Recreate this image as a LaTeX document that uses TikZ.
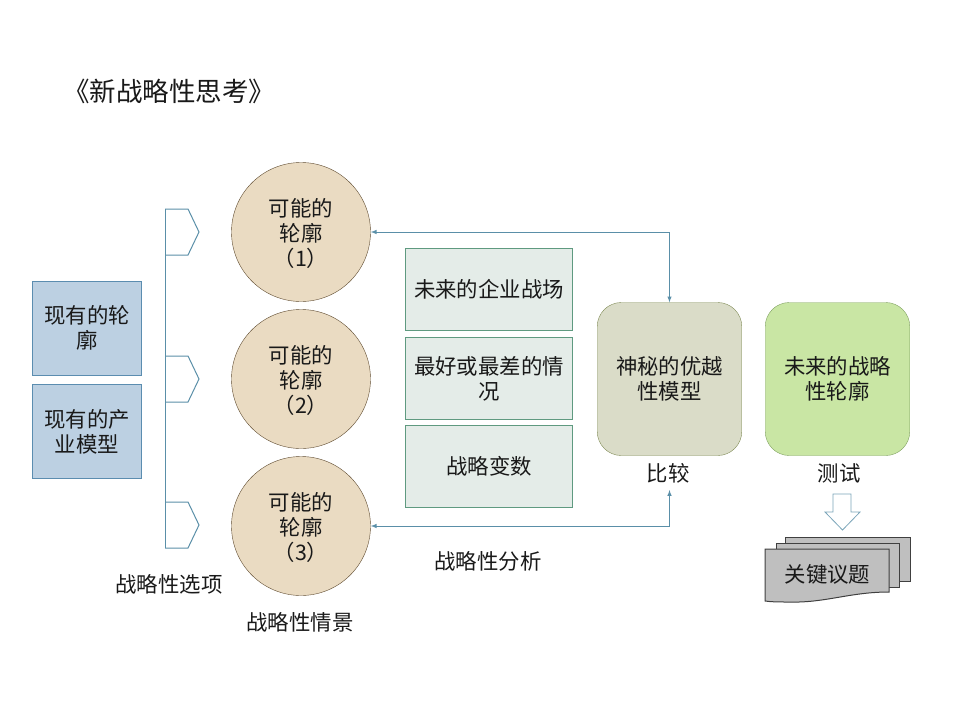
\documentclass[tikz,border=0pt]{standalone}
\usepackage{fontspec}
\setmainfont{Noto Sans CJK SC}
\definecolor{linkblue}{HTML}{5A8FA8}
\definecolor{nowfill}{HTML}{BCD0E2}
\definecolor{nowline}{HTML}{5B8DB0}
\definecolor{scenefill}{HTML}{EADBC2}
\definecolor{sceneline}{HTML}{5F4B30}
\definecolor{midfill}{HTML}{E4ECE8}
\definecolor{midline}{HTML}{5F9A80}
\definecolor{modelfill}{HTML}{DADCC8}
\definecolor{modelline}{HTML}{7F8A55}
\definecolor{futurefill}{HTML}{C9E6A4}
\definecolor{futureline}{HTML}{7FA060}
\tikzset{
  txt/.style={font=\fontsize{21.4}{25}\selectfont,align=center,text=black!90,inner sep=0pt},
  nowbox/.style={txt,draw=nowline,fill=nowfill,minimum width=109pt,minimum height=94pt},
  scene/.style={txt,circle,draw=sceneline,fill=scenefill,minimum size=139pt},
  midbox/.style={txt,draw=midline,fill=midfill,minimum width=167pt,minimum height=82pt},
  bigbox/.style={txt,draw,rounded corners=24pt,minimum width=144.5pt,minimum height=153pt},
  link/.style={draw=linkblue,line width=1pt},
  doc/.style={draw=black!75,line width=1pt,fill=black!25}
}
\begin{document}
\begin{tikzpicture}[x=1pt,y=-1pt]
  \useasboundingbox (0,0) rectangle (960,720);
  % title
  \node[txt,font=\fontsize{26.5}{30}\selectfont] (title) at (169,91) {《新战略性思考》};
  % left boxes
  \node[nowbox] (now1) at (87,328) {现有的轮\\廓};
  \node[nowbox] (now2) at (87,431.5) {现有的产\\业模型};
  % options bracket
  \coordinate (top) at (165,209);
  \coordinate (bot) at (165,548);
  \draw[link] (top) -- (bot);
  \foreach \y in {232,379,525} {
    \draw[link] (165,\y-23) -- (188,\y-23) -- (199,\y) -- (188,\y+23) -- (165,\y+23);
  }
  % scenarios
  \foreach \n/\y in {1/232,2/379,3/526} {
    \node[scene] (scene\n) at (301,\y) {\rule{0pt}{21pt}可能的\\轮廓\\（\n）};
  }
  % middle boxes
  \node[midbox] (mid1) at (489,289.5) {未来的企业战场};
  \node[midbox] (mid2) at (489,378.5) {最好或最差的情\\况};
  \node[midbox] (mid3) at (489,466.5) {战略变数};
  % right boxes
  \node[bigbox,draw=modelline,fill=modelfill] (model) at (669.5,379) {神秘的优越\\性模型};
  \node[bigbox,draw=futureline,fill=futurefill] (future) at (837.5,379) {未来的战略\\性轮廓};
  % connectors
  \coordinate (cmp) at (669.5,490);
  \draw[link,<->,>=latex] (scene1.east) -| (model.north);
  \draw[link,<->,>=latex] (scene3.east) -| (cmp);
  % labels
  \node[txt] (compare) at (668,473) {比较};
  \node[txt] (test) at (839,473) {测试};
  \node[txt] (analysis) at (488,561) {战略性分析};
  \node[txt] (options) at (169,584) {战略性选项};
  \node[txt] (scenes) at (300,622) {战略性情景};
  % hollow arrow
  \draw[draw=linkblue!80,fill=white,line width=.8pt] (833,494) -- (851,494) -- (851,512) -- (860,512)
    -- (842.5,530) -- (825,512) -- (833,512) -- cycle;
  % stacked documents
  \draw[doc] (785,537) rectangle (910,581);
  \draw[doc] (776,543) rectangle (899,587);
  \draw[doc] (765,549) -- (889,549) -- (889,592) .. controls (850,592) and (825,603) .. (790,602)
    .. controls (778,602) and (772,602) .. (765,601) -- cycle;
  \node[txt] (issues) at (827.5,574) {关键议题};
\end{tikzpicture}
\end{document}
